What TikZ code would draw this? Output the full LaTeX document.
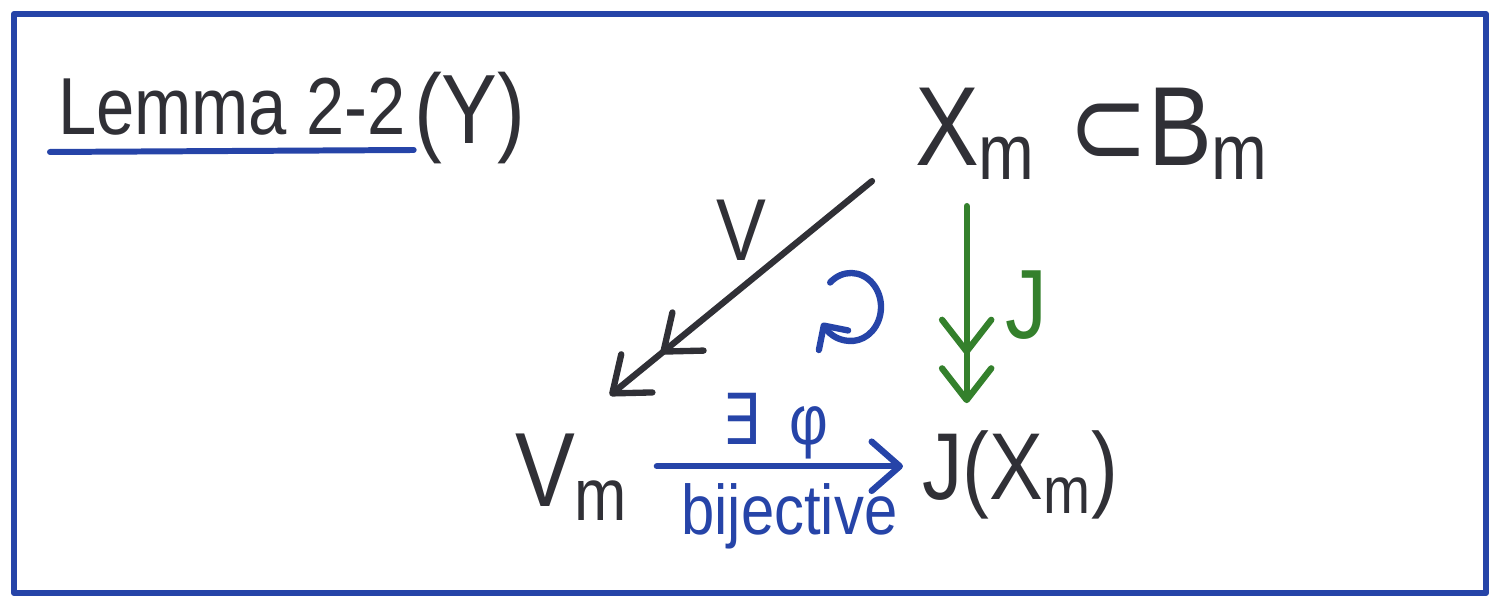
\documentclass[tikz,border=0pt]{standalone}
\usepackage{fontspec}
\setmainfont{Liberation Sans}[FakeStretch=0.85]
\newfontfamily\glyphs{DejaVu Sans}[FakeStretch=0.85]
\usetikzlibrary{arrows.meta}
\definecolor{inkblue}{RGB}{38,68,168}
\definecolor{inkgreen}{RGB}{52,128,44}
\definecolor{inkblack}{RGB}{48,48,54}
\newcommand\fsz[1]{\fontsize{#1}{#1}\selectfont}

\begin{document}
\begin{tikzpicture}[
    x=0.01cm, y=-0.01cm,
    txt/.style={inner sep=0pt, outer sep=0pt, text=inkblack, anchor=base west},
    mapline/.style={line width=1.8pt, line cap=round, line join=round},
    vmap/.style={mapline, draw=inkblack,
                 -{Straight Barb[length=9pt,width=14pt,round,sep=8pt]Straight Barb[length=9pt,width=14pt,round]}},
    jmap/.style={mapline, draw=inkgreen, shorten <=0.27cm, shorten >=0.28cm,
                 -{Straight Barb[length=9pt,width=14pt,round,sep=3pt]Straight Barb[length=9pt,width=14pt,round]}},
    phimap/.style={mapline, draw=inkblue, shorten <=0.28cm, shorten >=0.19cm,
                   -{Straight Barb[length=8pt,width=14pt,round]}},
    loopmap/.style={mapline, draw=inkblue, -{Straight Barb[length=5pt,width=10pt,round]}}
]
    \useasboundingbox (0,0) rectangle (1505,604);
    \draw[inkblue, line width=1.7pt, line join=round] (14,14) rectangle (1486,593);

    % title
    \node[txt, font=\fsz{23}] (lemma) at (58,135) {Lemma 2-2};
    \node[txt, font=\fsz{28}] (ytag)  at (414,144) {(Y)};
    \draw[inkblue, line width=1.7pt, line cap=round]
        ([shift={(-8,17)}]lemma.base west) -- ([shift={(8,15)}]lemma.base east);

    % objects
    \node[txt, font=\fsz{32}] (Xm)  at (915,166)  {X\textsubscript{m}};
    \node[txt, font=\fsz{32}] (Bm)  at (1068,166) {{\glyphs ⊂}B\textsubscript{m}};
    \node[txt, font=\fsz{30}] (Vm)  at (515,507)  {V\textsubscript{m}};
    \node[txt, font=\fsz{27}] (JXm) at (922,500)  {J(X\textsubscript{m})};

    % maps
    \draw[vmap] ([shift={(-43,2)}]Xm.south west)
        -- node[above=5pt, inner sep=2pt, font=\fsz{25}, text=inkblack]{V}
        ([shift={(-19,-39)}]Vm.north east);
    \draw[jmap] ([xshift=-0.09cm]Xm.south)
        -- node[right=10pt, inner sep=0pt, font=\fsz{28}, text=inkgreen]{J}
        ([xshift=-0.09cm]Xm.south |- JXm.north);
    \draw[phimap] ([yshift=0.11cm]Vm.east)
        -- node[above=1pt, inner sep=0pt, font=\fsz{20}, text=inkblue]{{\glyphs ∃}\, φ}
           node[below=4pt, xshift=0.14cm, inner sep=0pt, font=\fsz{20}, text=inkblue]{bijective}
        ([yshift=0.11cm]Vm.east -| JXm.west);
    % commutes
    \draw[loopmap] (851,307) ++(-134:30 and 34)
        arc[start angle=-134, end angle=85, x radius=30, y radius=34]
        .. controls (840,342) and (830,335) .. (822,323);
\end{tikzpicture}
\end{document}
